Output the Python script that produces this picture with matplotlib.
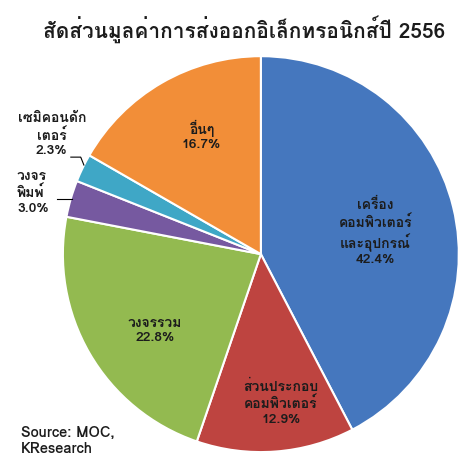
import matplotlib
matplotlib.use('Agg')
import matplotlib.pyplot as plt
from matplotlib import font_manager

# Data
categories = ['เครื่อง\nคอมพิวเตอร์\nและอุปกรณ์', 'ส่วนประกอบ\nคอมพิวเตอร์', 'วงจรรวม',
              'วงจร\nพิมพ์', 'เซมิคอนดัก\nเตอร์', 'อื่นๆ']
shares = [42.4, 12.9, 22.8, 3.0, 2.3, 16.7]
colors = ['#4577BE', '#BE4440', '#93BA50', '#7659A0', '#3FA7C6', '#F28E38']
title = 'สัดส่วนมูลค่าการส่งออกอิเล็กทรอนิกส์ปี 2556'
source = 'Source: MOC,\nKResearch'

# register Loma (Thai font with zero-width marks) if it's around
for path in font_manager.findSystemFonts():
    if path.split('/')[-1].startswith('Loma'):
        font_manager.fontManager.addfont(path)
plt.rcParams['font.family'] = ['Loma', 'DejaVu Sans']

fig = plt.figure(figsize=(4.73, 4.68), dpi=100)
ax = fig.add_axes([0.133, 0.034, 0.837, 0.846])
wedges, _ = ax.pie(shares, colors=colors, startangle=90, counterclock=False,
                   wedgeprops=dict(edgecolor='white', linewidth=1.5))
ax.set_xlim(-1, 1)
ax.set_ylim(-1, 1)
ax.set_aspect('equal')

txt = '#1c1c1c'
lbl = dict(fontsize=10, fontweight='bold', color=txt, linespacing=1.25)

# inside labels (x, y in pie units)
inside = {0: (0.58, 0.11), 1: (0.10, -0.75), 2: (-0.535, -0.39), 5: (-0.30, 0.60)}
for i, (x, y) in inside.items():
    ax.text(x, y, f'{categories[i]}\n{shares[i]:.1f}%', ha='center', va='center', **lbl)

# outside labels with leader lines
ax.text(-1.056, 0.60, f'{categories[4]}\n{shares[4]:.1f}%', ha='center', va='center', **lbl)
ax.plot([-0.96, -0.91, -0.894], [0.49, 0.49, 0.45], color='black', lw=0.8, clip_on=False)
ax.text(-1.232, 0.31, f'{categories[3]}\n{shares[3]:.1f}%', ha='left', va='center', **lbl)
ax.plot([-1.03, -0.955], [0.28, 0.28], color='black', lw=0.8, clip_on=False)

fig.text(0.517, 0.938, title, ha='center', va='center', fontsize=15, fontweight='bold',
         color=txt)
fig.text(0.045, 0.058, source, ha='left', va='center', fontsize=10.5, fontweight='bold',
         color=txt, linespacing=1.2)

fig.savefig('out.png', dpi=100)
